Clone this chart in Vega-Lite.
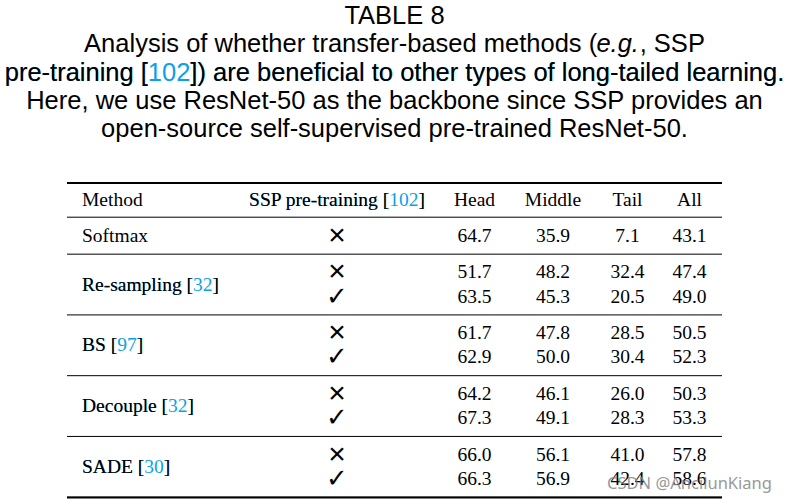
{
  "$schema": "https://vega.github.io/schema/vega-lite/v6.json",
  "width": 655,
  "height": 504,
  "autosize": "none",
  "padding": {"left": 67, "right": 67, "top": 0, "bottom": 0},
  "background": "#ffffff",
  "config": {"view": {"stroke": null}, "axis": {"disable": true}},
  "datasets": {
    "caption": [
      {"line": 0, "text": "TABLE 8"},
      {"line": 1, "text": "Analysis of whether transfer-based methods (e.g., SSP"},
      {"line": 2, "text": "pre-training [102]) are beneficial to other types of long-tailed learning."},
      {"line": 3, "text": "Here, we use ResNet-50 as the backbone since SSP provides an"},
      {"line": 4, "text": "open-source self-supervised pre-trained ResNet-50."}
    ],
    "header": [
      {"idx": 0, "text": "Method"},
      {"idx": 1, "text": "SSP pre-training [102]"},
      {"idx": 2, "text": "Head"},
      {"idx": 3, "text": "Middle"},
      {"idx": 4, "text": "Tail"},
      {"idx": 5, "text": "All"}
    ],
    "rows": [
      {"label": "Softmax", "line": 3, "ssp": "✗", "Head": 64.7, "Middle": 35.9, "Tail": 7.1, "All": 43.1},
      {"label": "Re-sampling [32]", "line": 6, "ssp": "✗", "Head": 51.7, "Middle": 48.2, "Tail": 32.4, "All": 47.4},
      {"label": "Re-sampling [32]", "line": 8, "ssp": "✓", "Head": 63.5, "Middle": 45.3, "Tail": 20.5, "All": 49.0},
      {"label": "BS [97]", "line": 11, "ssp": "✗", "Head": 61.7, "Middle": 47.8, "Tail": 28.5, "All": 50.5},
      {"label": "BS [97]", "line": 13, "ssp": "✓", "Head": 62.9, "Middle": 50.0, "Tail": 30.4, "All": 52.3},
      {"label": "Decouple [32]", "line": 16, "ssp": "✗", "Head": 64.2, "Middle": 46.1, "Tail": 26.0, "All": 50.3},
      {"label": "Decouple [32]", "line": 18, "ssp": "✓", "Head": 67.3, "Middle": 49.1, "Tail": 28.3, "All": 53.3},
      {"label": "SADE [30]", "line": 21, "ssp": "✗", "Head": 66.0, "Middle": 56.1, "Tail": 41.0, "All": 57.8},
      {"label": "SADE [30]", "line": 23, "ssp": "✓", "Head": 66.3, "Middle": 56.9, "Tail": 42.4, "All": 58.6}
    ],
    "notes": [{"text": "CSDN @AncilunKiang"}]
  },
  "resolve": {"scale": {"y": "independent"}},
  "layer": [
    {
      "data": {"name": "caption"},
      "layer": [
        {
          "transform": [{"filter": "datum.line == 2"}],
          "mark": {"type": "text", "font": "Liberation Sans", "fontSize": 25.5, "baseline": "alphabetic", "align": "center", "color": "#0aa1e6"},
          "encoding": {
            "y": {"field": "line", "type": "ordinal", "scale": {"type": "point", "padding": 0, "domain": [0, 1, 2, 3, 4], "range": [24, 137]}, "axis": null},
            "text": {"field": "text"}
          }
        },
        {
          "mark": {"type": "text", "font": "Liberation Sans", "fontSize": 25.5, "baseline": "alphabetic", "align": "center", "color": "#000000",
                   "text": {"expr": "replace(replace(datum.text, 'e.g.', '\u00a0\u00a0\u00a0\u00a0\u00a0\u00a0'), '102', '\u00a0\u00a0\u00a0\u00a0\u00a0\u00a0')"}},
          "encoding": {
            "y": {"field": "line", "type": "ordinal", "scale": {"type": "point", "padding": 0, "domain": [0, 1, 2, 3, 4], "range": [24, 137]}, "axis": null}
          }
        },
        {
          "transform": [{"filter": "datum.line == 1"}],
          "mark": {"type": "text", "font": "Liberation Sans", "fontSize": 25.5, "fontStyle": "italic", "baseline": "alphabetic", "align": "center", "color": "#000000",
                   "text": {"expr": "'\u200b\u00a0\u00a0\u00a0\u00a0\u00a0\u00a0\u00a0\u00a0\u00a0\u00a0\u00a0\u00a0\u00a0\u00a0\u00a0\u00a0\u00a0\u00a0\u00a0\u00a0\u00a0\u00a0\u00a0\u00a0\u00a0\u00a0\u00a0\u00a0\u00a0\u00a0\u00a0\u00a0\u00a0\u00a0\u00a0\u00a0\u00a0\u00a0\u00a0\u00a0\u00a0\u00a0\u00a0\u00a0\u00a0\u00a0\u00a0\u00a0\u00a0\u00a0\u00a0\u00a0\u00a0\u00a0\u00a0\u00a0\u00a0\u00a0\u00a0\u00a0\u00a0\u00a0\u00a0e.g.'"}},
          "encoding": {
            "y": {"field": "line", "type": "ordinal", "scale": {"type": "point", "padding": 0, "domain": [0, 1, 2, 3, 4], "range": [24, 137]}, "axis": null}
          }
        }
      ]
    },
    {
      "layer": [
        {
          "data": {"name": "header"},
          "transform": [{"filter": "datum.idx == 0"}],
          "mark": {"type": "rule", "color": "#000000", "strokeWidth": 2, "yOffset": -16.5},
          "encoding": {"y": {"datum": 0, "type": "quantitative", "scale": {"domain": [0, 23], "range": [199.5, 479], "nice": false, "zero": false}, "axis": null}}
        },
        {
          "data": {"name": "header"},
          "transform": [{"filter": "datum.idx == 0"}],
          "mark": {"type": "rule", "color": "#000000", "strokeWidth": 1, "yOffset": 17.7},
          "encoding": {"y": {"datum": 0, "type": "quantitative", "scale": {"domain": [0, 23], "range": [199.5, 479], "nice": false, "zero": false}, "axis": null}}
        },
        {
          "data": {"name": "rows"},
          "mark": {"type": "rule", "color": "#000000", "strokeWidth": 1, "yOffset": 18.2},
          "encoding": {
            "y": {"aggregate": "max", "field": "line", "type": "quantitative", "scale": {"domain": [0, 23], "range": [199.5, 479], "nice": false, "zero": false}, "axis": null},
            "detail": {"field": "label"}
          }
        },
        {
          "data": {"name": "rows"},
          "mark": {"type": "rule", "color": "#000000", "strokeWidth": 2, "yOffset": 18.5},
          "encoding": {
            "y": {"aggregate": "max", "field": "line", "type": "quantitative", "scale": {"domain": [0, 23], "range": [199.5, 479], "nice": false, "zero": false}, "axis": null}
          }
        },
        {
          "data": {"name": "header"},
          "transform": [{"filter": "datum.idx == 1"}],
          "mark": {"type": "text", "font": "Liberation Serif", "fontSize": 19.5, "align": "center", "baseline": "middle", "color": "#0aa1e6"},
          "encoding": {
            "x": {"field": "idx", "type": "quantitative", "scale": {"domain": [0, 1, 2, 3, 4, 5], "range": [15, 270, 407.5, 486, 560.5, 622.5], "nice": false, "zero": false}, "axis": null},
            "y": {"datum": 0, "type": "quantitative", "scale": {"domain": [0, 23], "range": [199.5, 479], "nice": false, "zero": false}, "axis": null},
            "text": {"field": "text"}
          }
        },
        {
          "data": {"name": "header"},
          "transform": [{"filter": "datum.idx >= 1"}],
          "mark": {"type": "text", "font": "Liberation Serif", "fontSize": 19.5, "align": "center", "baseline": "middle", "color": "#000000",
                   "text": {"expr": "replace(datum.text, regexp('[0-9]', 'g'), '\u00a0\u00a0')"}},
          "encoding": {
            "x": {"field": "idx", "type": "quantitative", "scale": {"domain": [0, 1, 2, 3, 4, 5], "range": [15, 270, 407.5, 486, 560.5, 622.5], "nice": false, "zero": false}, "axis": null},
            "y": {"datum": 0, "type": "quantitative", "scale": {"domain": [0, 23], "range": [199.5, 479], "nice": false, "zero": false}, "axis": null}
          }
        },
        {
          "data": {"name": "header"},
          "transform": [{"filter": "datum.idx == 0"}],
          "mark": {"type": "text", "font": "Liberation Serif", "fontSize": 19.5, "align": "left", "baseline": "middle", "color": "#000000"},
          "encoding": {
            "x": {"field": "idx", "type": "quantitative", "scale": {"domain": [0, 1, 2, 3, 4, 5], "range": [15, 270, 407.5, 486, 560.5, 622.5], "nice": false, "zero": false}, "axis": null},
            "y": {"datum": 0, "type": "quantitative", "scale": {"domain": [0, 23], "range": [199.5, 479], "nice": false, "zero": false}, "axis": null},
            "text": {"field": "text"}
          }
        },
        {
          "data": {"name": "rows"},
          "transform": [{"filter": "indexof(datum.label, '[') >= 0"}],
          "mark": {"type": "text", "font": "Liberation Serif", "fontSize": 19.5, "align": "left", "baseline": "middle", "color": "#0aa1e6"},
          "encoding": {
            "x": {"datum": 0, "type": "quantitative", "scale": {"domain": [0, 1, 2, 3, 4, 5], "range": [15, 270, 407.5, 486, 560.5, 622.5], "nice": false, "zero": false}, "axis": null},
            "y": {"aggregate": "mean", "field": "line", "type": "quantitative", "scale": {"domain": [0, 23], "range": [199.5, 479], "nice": false, "zero": false}, "axis": null},
            "text": {"field": "label"}
          }
        },
        {
          "data": {"name": "rows"},
          "mark": {"type": "text", "font": "Liberation Serif", "fontSize": 19.5, "align": "left", "baseline": "middle", "color": "#000000",
                   "text": {"expr": "replace(datum.label, regexp('[0-9]', 'g'), '\u00a0\u00a0')"}},
          "encoding": {
            "x": {"datum": 0, "type": "quantitative", "scale": {"domain": [0, 1, 2, 3, 4, 5], "range": [15, 270, 407.5, 486, 560.5, 622.5], "nice": false, "zero": false}, "axis": null},
            "y": {"aggregate": "mean", "field": "line", "type": "quantitative", "scale": {"domain": [0, 23], "range": [199.5, 479], "nice": false, "zero": false}, "axis": null},
            "detail": {"field": "label"}
          }
        },
        {
          "data": {"name": "rows"},
          "transform": [{"filter": "datum.ssp == '✗'"}],
          "mark": {"type": "text", "font": "Liberation Sans", "fontSize": 30, "align": "center", "baseline": "middle", "color": "#000000",
                   "text": {"expr": "'×'"}},
          "encoding": {
            "x": {"datum": 1, "type": "quantitative", "scale": {"domain": [0, 1, 2, 3, 4, 5], "range": [15, 270, 407.5, 486, 560.5, 622.5], "nice": false, "zero": false}, "axis": null},
            "y": {"field": "line", "type": "quantitative", "scale": {"domain": [0, 23], "range": [199.5, 479], "nice": false, "zero": false}, "axis": null},
            "detail": {"field": "ssp"}
          }
        },
        {
          "data": {"name": "rows"},
          "transform": [{"filter": "datum.ssp == '✓'"}],
          "mark": {"type": "text", "font": "DejaVu Sans", "fontSize": 26, "align": "center", "baseline": "middle", "color": "#000000"},
          "encoding": {
            "x": {"datum": 1, "type": "quantitative", "scale": {"domain": [0, 1, 2, 3, 4, 5], "range": [15, 270, 407.5, 486, 560.5, 622.5], "nice": false, "zero": false}, "axis": null},
            "y": {"field": "line", "type": "quantitative", "scale": {"domain": [0, 23], "range": [199.5, 479], "nice": false, "zero": false}, "axis": null},
            "text": {"field": "ssp"}
          }
        },
        {
          "data": {"name": "rows"},
          "transform": [
            {"fold": ["Head", "Middle", "Tail", "All"], "as": ["key", "value"]},
            {"lookup": "key", "from": {"data": {"name": "header"}, "key": "text", "fields": ["idx"]}}
          ],
          "mark": {"type": "text", "font": "Liberation Serif", "fontSize": 19.5, "align": "center", "baseline": "middle", "color": "#000000"},
          "encoding": {
            "x": {"field": "idx", "type": "quantitative", "scale": {"domain": [0, 1, 2, 3, 4, 5], "range": [15, 270, 407.5, 486, 560.5, 622.5], "nice": false, "zero": false}, "axis": null},
            "y": {"field": "line", "type": "quantitative", "scale": {"domain": [0, 23], "range": [199.5, 479], "nice": false, "zero": false}, "axis": null},
            "text": {"field": "value", "type": "quantitative", "format": ".1f"}
          }
        },
        {
          "data": {"name": "notes"},
          "mark": {"type": "text", "font": "Noto Sans", "fontSize": 16.5, "align": "center", "baseline": "middle", "color": "#808080", "opacity": 0.8, "dy": 5},
          "encoding": {
            "x": {"datum": 5, "type": "quantitative", "scale": {"domain": [0, 1, 2, 3, 4, 5], "range": [15, 270, 407.5, 486, 560.5, 622.5], "nice": false, "zero": false}, "axis": null},
            "y": {"datum": 23, "type": "quantitative", "scale": {"domain": [0, 23], "range": [199.5, 479], "nice": false, "zero": false}, "axis": null},
            "text": {"field": "text"}
          }
        }
      ]
    }
  ]
}
